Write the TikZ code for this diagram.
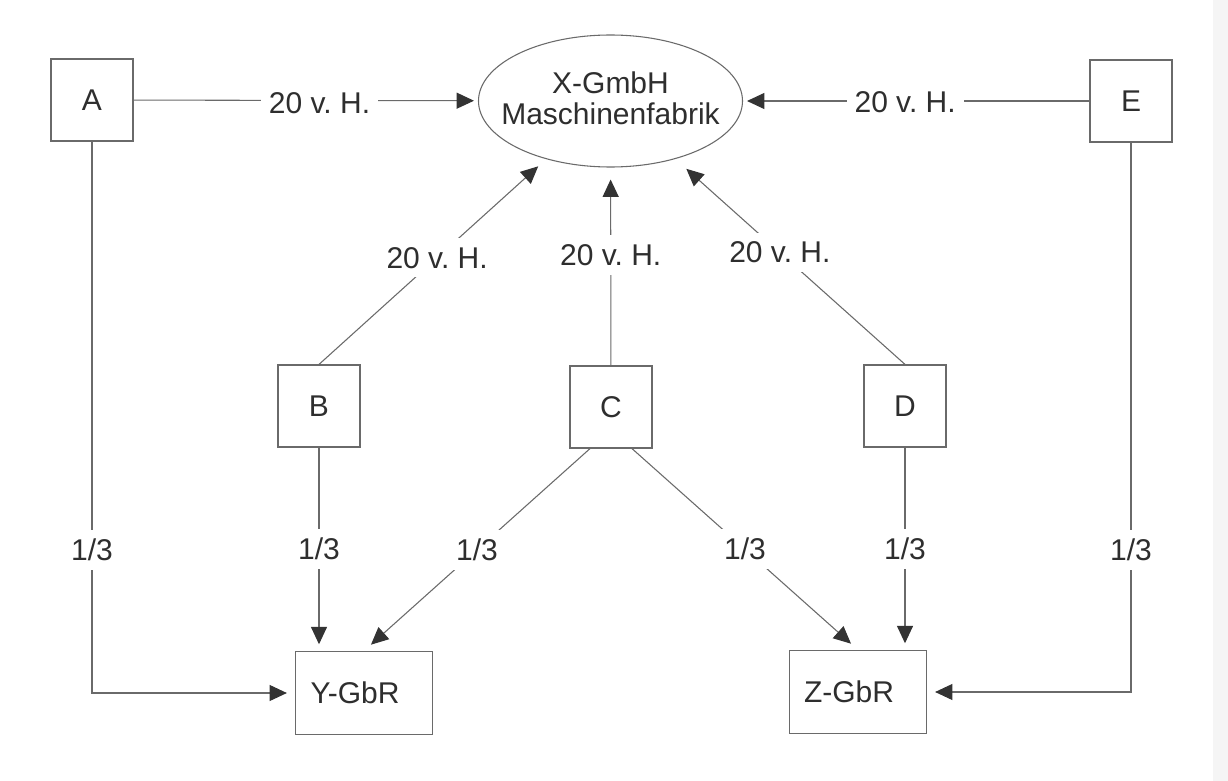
\documentclass[tikz,border=0pt]{standalone}
\usepackage{fontspec}
\setmainfont{Liberation Sans}
\usetikzlibrary{arrows.meta,shapes.geometric}
\definecolor{inkc}{HTML}{2E2E2E}
\definecolor{linec}{HTML}{6A6A6A}
\definecolor{tipc}{HTML}{333333}
\frenchspacing
\begin{document}
\begin{tikzpicture}[x=0.75pt,y=-0.75pt,
  font=\fontsize{22.5pt}{23.25pt}\selectfont,
  every node/.style={text=inkc},
  party/.style={draw=linec, line width=0.9pt, minimum width=61.5pt,
    minimum height=61.5pt, inner sep=0pt},
  firm/.style={party, minimum width=102.75pt, minimum height=62.25pt},
  share/.style={fill=white, inner xsep=6pt, inner ysep=6.75pt},
  link/.style={draw=linec, line width=0.8pt,
    -{Triangle[length=13pt,width=12pt,color=tipc]}},
  ]
\useasboundingbox (0,0) rectangle (1228,781);
\fill[white] (0,0) rectangle (1228,781);
\fill[black!4] (1213,0) rectangle (1228,781);

% shareholders and companies
\node[party] (A) at (92,100) {A};
\node[party] (E) at (1131,101) {E};
\node[draw=linec, line width=0.8pt, ellipse, minimum width=198pt,
  minimum height=99pt, inner sep=0pt] (X) at (610.5,101) {};
\node[align=center, inner sep=0pt] (Xname) at (610.5,98)
  {X-GmbH\\Maschinenfabrik};
\node[party] (B) at (319,406) {B};
\node[party] (C) at (611,407) {C};
\node[party] (D) at (905,406) {D};
\node[firm] (Y) at (364,693) {Y-GbR\kern13.5pt};
\node[firm] (Z) at (858,692) {Z-GbR\kern13.5pt};

% holdings in the GmbH
\draw[link, shorten >=3pt] (A) -- node[share, pos=0.54, yshift=-2pt] {20 v. H.} (X);
\draw[link, shorten >=3pt] (E) -- node[share, pos=0.532, yshift=-1pt] {20 v. H.} (X);
\draw[link, shorten >=8pt] (B.north) -- node[share, pos=0.52] {20 v. H.} (X);
\draw[link, shorten >=9pt] (C) -- node[share, pos=0.558] {20 v. H.} (X);
\draw[link, shorten >=11pt] (D.north) -- node[share, pos=0.545] {20 v. H.} (X);

% shares in the two partnerships
\draw[link, shorten >=6pt] (A) |- node[share, pos=0.37] {1/3} (Y);
\draw[link, shorten >=5pt] (B.south) -- node[share] {1/3} (B.south |- Y.north);
\draw[link, shorten >=7pt] ([xshift=-15.75pt]C.south) -- node[share] {1/3} (Y.north);
\draw[link, shorten >=7pt] ([xshift=15.75pt]C.south) -- node[share] {1/3} (Z.north);
\draw[link, shorten >=5pt] (D.south) -- node[share] {1/3} (D.south |- Z.north);
\draw[link, shorten >=6pt] (E) |- node[share, pos=0.371] {1/3} (Z);
\end{tikzpicture}
\end{document}
